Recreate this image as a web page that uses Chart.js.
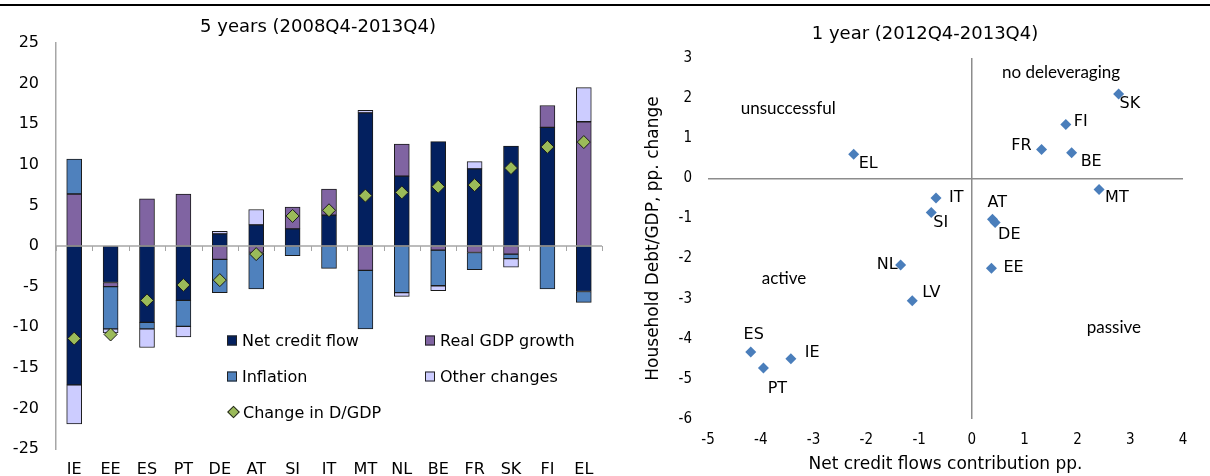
<!DOCTYPE html>
<html><head><meta charset="utf-8">
<script src="https://cdn.jsdelivr.net/npm/chart.js@4.4.1/dist/chart.umd.min.js"></script>
<style>
html,body{margin:0;padding:0;background:#fff;overflow:hidden;width:1210px;height:476px;}
#wrap{position:relative;width:1210px;height:476px;overflow:hidden;}
.rule{position:absolute;left:0;top:4px;width:1210px;height:2px;background:#000;}
#c1{position:absolute;left:0;top:0;}
#c2{position:absolute;left:600px;top:0;}
.title{position:absolute;font-family:'DejaVu Sans',sans-serif;font-size:18px;color:#000;transform:translate(-50%,-50%);white-space:nowrap;}
.leg{position:absolute;font-family:'DejaVu Sans',sans-serif;font-size:16px;color:#000;white-space:nowrap;transform:translateY(-50%);display:flex;align-items:center;}
.box{width:8px;height:8px;border:1px solid #222;margin-right:5px;}
.dia{width:7px;height:7px;background:#9BBB59;border:1px solid #222;transform:rotate(45deg);margin:0 5px 0 2px;}
</style></head>
<body>
<div id="wrap">
<div class="rule"></div>
<canvas id="c1" width="620" height="495"></canvas>
<canvas id="c2" width="610" height="476"></canvas>
<div class="title" style="left:318px;top:25px;">5 years (2008Q4-2013Q4)</div>
<div class="title" style="left:925px;top:32px;">1 year (2012Q4-2013Q4)</div>
<div class="leg" style="left:227px;top:340px;"><span class="box" style="background:#03205F"></span>Net credit flow</div>
<div class="leg" style="left:425px;top:340px;"><span class="box" style="background:#8064A2"></span>Real GDP growth</div>
<div class="leg" style="left:227px;top:376px;"><span class="box" style="background:#4F81BD"></span>Inflation</div>
<div class="leg" style="left:425px;top:376px;"><span class="box" style="background:#CCCCFF"></span>Other changes</div>
<div class="leg" style="left:227px;top:412px;"><span class="dia"></span>Change in D/GDP</div>
</div>
<script>
// ---- Left panel: 5 years (2008Q4-2013Q4) ----
const categories = ['IE','EE','ES','PT','DE','AT','SI','IT','MT','NL','BE','FR','SK','FI','EL'];
const netCreditFlow   = [-17.1, -4.5, -9.4, -6.7, 1.5, 2.6, 2.1, 3.8, 16.4, 8.6, 12.85, 9.5, 12.3, 14.6, -5.6];
const realGdpGrowth   = [6.4, -0.5, 5.8, 6.4, -1.65, -0.8, 2.7, 3.2, -3.0, 3.95, -0.5, -0.8, -1.0, 2.7, 15.3];
const inflation       = [4.3, -5.2, -0.8, -3.2, -4.1, -4.5, -1.2, -2.75, -7.2, -5.75, -4.4, -2.1, -0.55, -5.3, -1.35];
const otherChanges    = [-4.8, -0.5, -2.3, -1.3, 0.3, 1.9, 0, 0, 0.3, -0.45, -0.6, 0.9, -1.05, 0, 4.2];
const changeInDebtToGdp = [-11.4, -10.9, -6.7, -4.8, -4.2, -1.0, 3.7, 4.4, 6.2, 6.6, 7.3, 7.5, 9.6, 12.2, 12.8];
const yTicks5y = {min: -25, max: 25, step: 5};

// ---- Right panel: 1 year (2012Q4-2013Q4) ----
const countries1y = ['SK','FI','FR','BE','MT','EL','IT','SI','AT','DE','EE','NL','LV','ES','PT','IE'];
const netCreditContribution = [2.78, 1.78, 1.32, 1.89, 2.41, -2.24, -0.68, -0.77, 0.39, 0.44, 0.37, -1.35, -1.13, -4.19, -3.95, -3.43];
const debtToGdpChange       = [2.1, 1.34, 0.72, 0.64, -0.28, 0.6, -0.49, -0.85, -1.02, -1.1, -2.24, -2.16, -3.05, -4.33, -4.73, -4.5];
const quadrantNames = ['no deleveraging', 'unsuccessful', 'active', 'passive'];

// label styles (pixel offsets / alignment) – presentation only
const labelStyle = {SK:[1,10,'left'],FI:[8,-3,'left'],FR:[-10,-4,'right'],BE:[9,9,'left'],MT:[6,8,'left'],
  EL:[5,10,'left'],IT:[13,0,'left'],SI:[2,10,'left'],AT:[-5,-16,'left'],DE:[3,12,'left'],EE:[12,0,'left'],
  NL:[-3,0,'right'],LV:[10,-8,'left'],ES:[3,-17,'center'],PT:[14,21,'center'],IE:[14,-6,'left']};
const quadrantPos = [[1.69,2.64],[-3.48,1.75],[-3.56,-2.49],[2.69,-3.72]];

const zeroAxisPlugin = {
  id:'zeroAxis',
  afterDatasetsDraw(chart){
    const {ctx, chartArea, scales:{x,y}} = chart;
    const y0 = y.getPixelForValue(0);
    ctx.save();
    ctx.strokeStyle = '#A6A6A6'; ctx.lineWidth = 1.5;
    ctx.beginPath(); ctx.moveTo(chartArea.left, y0); ctx.lineTo(chartArea.right, y0); ctx.stroke();
    const step = x.getPixelForValue(1) - x.getPixelForValue(0);
    ctx.lineWidth = 1;
    for (let i = 0; i <= categories.length; i++) {
      const px = Math.round(x.getPixelForValue(0) - step/2 + i*step) + 0.5;
      ctx.beginPath(); ctx.moveTo(px, y0); ctx.lineTo(px, y0 + 5); ctx.stroke();
    }
    ctx.restore();
  }
};

const barCommon = {borderWidth:1, borderColor:'#1a1a1a', borderSkipped:false, barThickness:15, stack:'s'};
new Chart(document.getElementById('c1'), {
  type:'bar',
  data:{labels:categories, datasets:[
    {type:'line', label:'Change in D/GDP', data:changeInDebtToGdp, showLine:false, pointStyle:'rectRot',
     pointRadius:6.5, pointBackgroundColor:'#9BBB59', pointBorderColor:'#1a1a1a', pointBorderWidth:1, stack:'d', order:0},
    Object.assign({label:'Net credit flow', data:netCreditFlow, backgroundColor:'#03205F', order:1}, barCommon),
    Object.assign({label:'Real GDP growth', data:realGdpGrowth, backgroundColor:'#8064A2', order:2}, barCommon),
    Object.assign({label:'Inflation', data:inflation, backgroundColor:'#4F81BD', order:3}, barCommon),
    Object.assign({label:'Other changes', data:otherChanges, backgroundColor:'#CCCCFF', order:4}, barCommon)
  ]},
  options:{
    responsive:false, animation:false, events:[],
    layout:{padding:{top:43,right:18,left:0,bottom:0}},
    plugins:{legend:{display:false}, tooltip:{enabled:false}, title:{display:false}},
    scales:{
      x:{stacked:true, grid:{display:false, drawTicks:false}, border:{display:false},
         ticks:{font:{family:'DejaVu Sans', size:16}, color:'#000', padding:11, autoSkip:false, maxRotation:0},
         afterFit:s=>{s.height=46;}},
      y:{stacked:true, min:yTicks5y.min, max:yTicks5y.max,
         ticks:{stepSize:yTicks5y.step, font:{family:'DejaVu Sans', size:16}, color:'#000', padding:17},
         grid:{display:false, drawTicks:false}, border:{display:true, color:'#A6A6A6', width:1.5},
         afterFit:s=>{s.width=56;}}
    }
  },
  plugins:[zeroAxisPlugin]
});

const scatterLabelPlugin = {
  id:'scatterLabels',
  afterDatasetsDraw(chart){
    const {ctx, scales:{x,y}} = chart;
    ctx.save();
    ctx.fillStyle = '#000'; ctx.textBaseline = 'middle';
    ctx.font = '16px "DejaVu Sans"';
    countries1y.forEach((c,i)=>{
      const px = x.getPixelForValue(netCreditContribution[i]);
      const py = y.getPixelForValue(debtToGdpChange[i]);
      const o = labelStyle[c];
      ctx.textAlign = o[2];
      ctx.fillText(c, px + o[0], py + o[1]);
    });
    ctx.font = '17px Lato';
    ctx.textAlign = 'center';
    quadrantNames.forEach((t,i)=>{
      ctx.fillText(t, x.getPixelForValue(quadrantPos[i][0]), y.getPixelForValue(quadrantPos[i][1]));
    });
    ctx.restore();
  }
};

const zeroGrid = {color:(c)=> (c.tick && c.tick.value === 0) ? '#8C8C8C' : 'rgba(0,0,0,0)', lineWidth:1.5, drawTicks:false};
const narrowFont = {family:"'Liberation Sans Narrow','DejaVu Sans Condensed',sans-serif", size:15};
new Chart(document.getElementById('c2'), {
  type:'scatter',
  data:{datasets:[{label:'1 year', data:countries1y.map((c,i)=>({x:netCreditContribution[i], y:debtToGdpChange[i]})),
    pointStyle:'rectRot', pointRadius:5.5, backgroundColor:'#4A7EBB', borderColor:'#4A7EBB', borderWidth:0}]},
  options:{
    responsive:false, animation:false, events:[],
    layout:{padding:{top:58,right:27,left:0,bottom:0}},
    plugins:{legend:{display:false}, tooltip:{enabled:false}},
    scales:{
      x:{type:'linear', min:-5, max:4, ticks:{stepSize:1, font:narrowFont, color:'#000', padding:12},
         grid:zeroGrid, border:{display:false},
         title:{display:true, text:'Net credit flows contribution pp.', font:{family:'DejaVu Sans', size:17}, color:'#000', padding:{top:0,bottom:1}},
         afterFit:s=>{s.height=57;}},
      y:{type:'linear', min:-6, max:3, ticks:{stepSize:1, font:narrowFont, color:'#000', padding:16},
         grid:zeroGrid, border:{display:false},
         title:{display:true, text:'Household Debt/GDP, pp. change', font:{family:'DejaVu Sans', size:17}, color:'#000', padding:{top:43,bottom:0}},
         afterFit:s=>{s.width=108;}}
    }
  },
  plugins:[scatterLabelPlugin]
});
</script>
</body></html>
